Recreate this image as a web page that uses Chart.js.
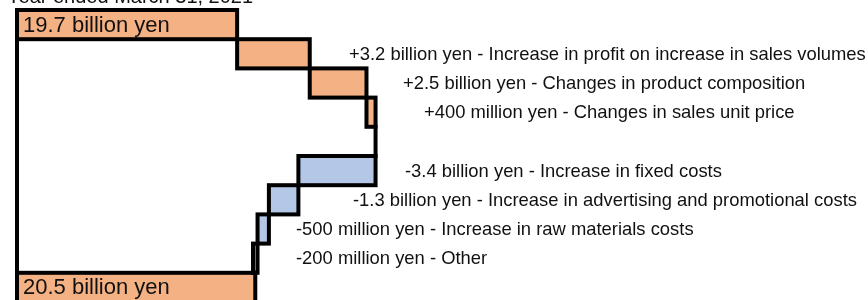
<!DOCTYPE html>
<html>
<head>
<meta charset="utf-8">
<script src="https://cdn.jsdelivr.net/npm/chart.js@4.4.1/dist/chart.umd.min.js"></script>
<style>
  html, body { margin: 0; padding: 0; background: #fff; overflow: hidden; }
  #wrap { width: 868px; height: 300px; overflow: hidden; }
</style>
</head>
<body>
<div id="wrap"><canvas id="bridgeChart" width="868" height="306"></canvas></div>
<script>
const headline = 'Year ended March 31, 2021';

// one row per step, the empty row is the gap between gains and costs
const categories = [
  'Previous year', 'Sales volumes', 'Product composition', 'Sales unit price', '',
  'Fixed costs', 'Advertising and promotional costs', 'Raw materials costs', 'Other', 'Current year'
];
const steps = [19.7, 3.2, 2.5, 0.4, null, -3.4, -1.3, -0.5, -0.2, 20.5];
const isTotal = [true, false, false, false, false, false, false, false, false, true];
const valueLabels = [
  '19.7 billion yen',
  '+3.2 billion yen - Increase in profit on increase in sales volumes',
  '+2.5 billion yen - Changes in product composition',
  '+400 million yen - Changes in sales unit price',
  '',
  '-3.4 billion yen - Increase in fixed costs',
  '-1.3 billion yen - Increase in advertising and promotional costs',
  '-500 million yen - Increase in raw materials costs',
  '-200 million yen - Other',
  '20.5 billion yen'
];
const axisStart = 10; // the axis is cut, totals start here

const ORANGE = '#F4B183';
const BLUE = '#B4C7E7';
const FONT = "'Liberation Sans', Arial, sans-serif";
// where each side note starts (px), as laid out in the source graphic
const noteX = [0, 349, 403, 424, 0, 405, 353, 296, 296, 0];

let running = 0;
const ranges = steps.map((v, i) => {
  if (v === null) return null;
  if (isTotal[i]) { running = v; return [axisStart, v]; }
  const from = running;
  running = Math.round((running + v) * 10) / 10;
  return [from, running];
});
const fills = steps.map((v, i) => (isTotal[i] || v > 0) ? ORANGE : BLUE);

const outlines = {
  id: 'outlines',
  afterDatasetsDraw(chart) {
    const ctx = chart.ctx;
    const bars = chart.getDatasetMeta(0).data;
    const xs = chart.scales.x;
    ctx.save();
    ctx.strokeStyle = '#000';
    ctx.lineWidth = 4;
    ctx.lineCap = 'square';
    // connector across skipped rows
    let prev = -1;
    ranges.forEach((r, i) => {
      if (!r) return;
      if (prev >= 0 && i > prev + 1) {
        const px = xs.getPixelForValue(ranges[prev][1]);
        const a = bars[prev], b = bars[i];
        ctx.beginPath();
        ctx.moveTo(px, a.y + a.height / 2);
        ctx.lineTo(px, b.y - b.height / 2);
        ctx.stroke();
      }
      prev = i;
    });
    ctx.lineCap = 'butt';
    ctx.lineJoin = 'miter';
    bars.forEach((el, i) => {
      if (!ranges[i]) return;
      const left = Math.min(el.x, el.base);
      const w = Math.abs(el.x - el.base);
      ctx.strokeRect(left, el.y - el.height / 2, w, el.height);
    });
    ctx.restore();
  }
};

const texts = {
  id: 'texts',
  afterDraw(chart) {
    const ctx = chart.ctx;
    const bars = chart.getDatasetMeta(0).data;
    ctx.save();
    ctx.fillStyle = '#111';
    ctx.textBaseline = 'alphabetic';
    ctx.textAlign = 'left';
    ctx.font = '20px ' + FONT;
    ctx.fillText(headline, 7, 3);

    ctx.textBaseline = 'middle';
    valueLabels.forEach((txt, i) => {
      if (!txt || !bars[i]) return;
      const el = bars[i];
      if (isTotal[i]) {
        ctx.font = '22px ' + FONT;
        ctx.fillText(txt, Math.min(el.x, el.base) + 6, el.y + 1);
      } else {
        ctx.font = '18.4px ' + FONT;
        ctx.fillText(txt, noteX[i], el.y + 1);
      }
    });
    ctx.restore();
  }
};

new Chart(document.getElementById('bridgeChart'), {
  type: 'bar',
  data: {
    labels: categories,
    datasets: [{
      data: ranges,
      backgroundColor: fills,
      borderWidth: 0,
      barPercentage: 1,
      categoryPercentage: 1
    }]
  },
  options: {
    indexAxis: 'y',
    responsive: false,
    animation: false,
    layout: { padding: { left: 17, right: 0, top: 10, bottom: 4 } },
    scales: {
      x: { type: 'linear', min: axisStart, max: 47.5, display: false },
      y: {
        grid: { display: false, drawTicks: false },
        ticks: { display: false },
        border: { display: true, color: '#000', width: 4 }
      }
    },
    plugins: {
      legend: { display: false },
      tooltip: { enabled: false }
    }
  },
  plugins: [outlines, texts]
});
</script>
</body>
</html>
